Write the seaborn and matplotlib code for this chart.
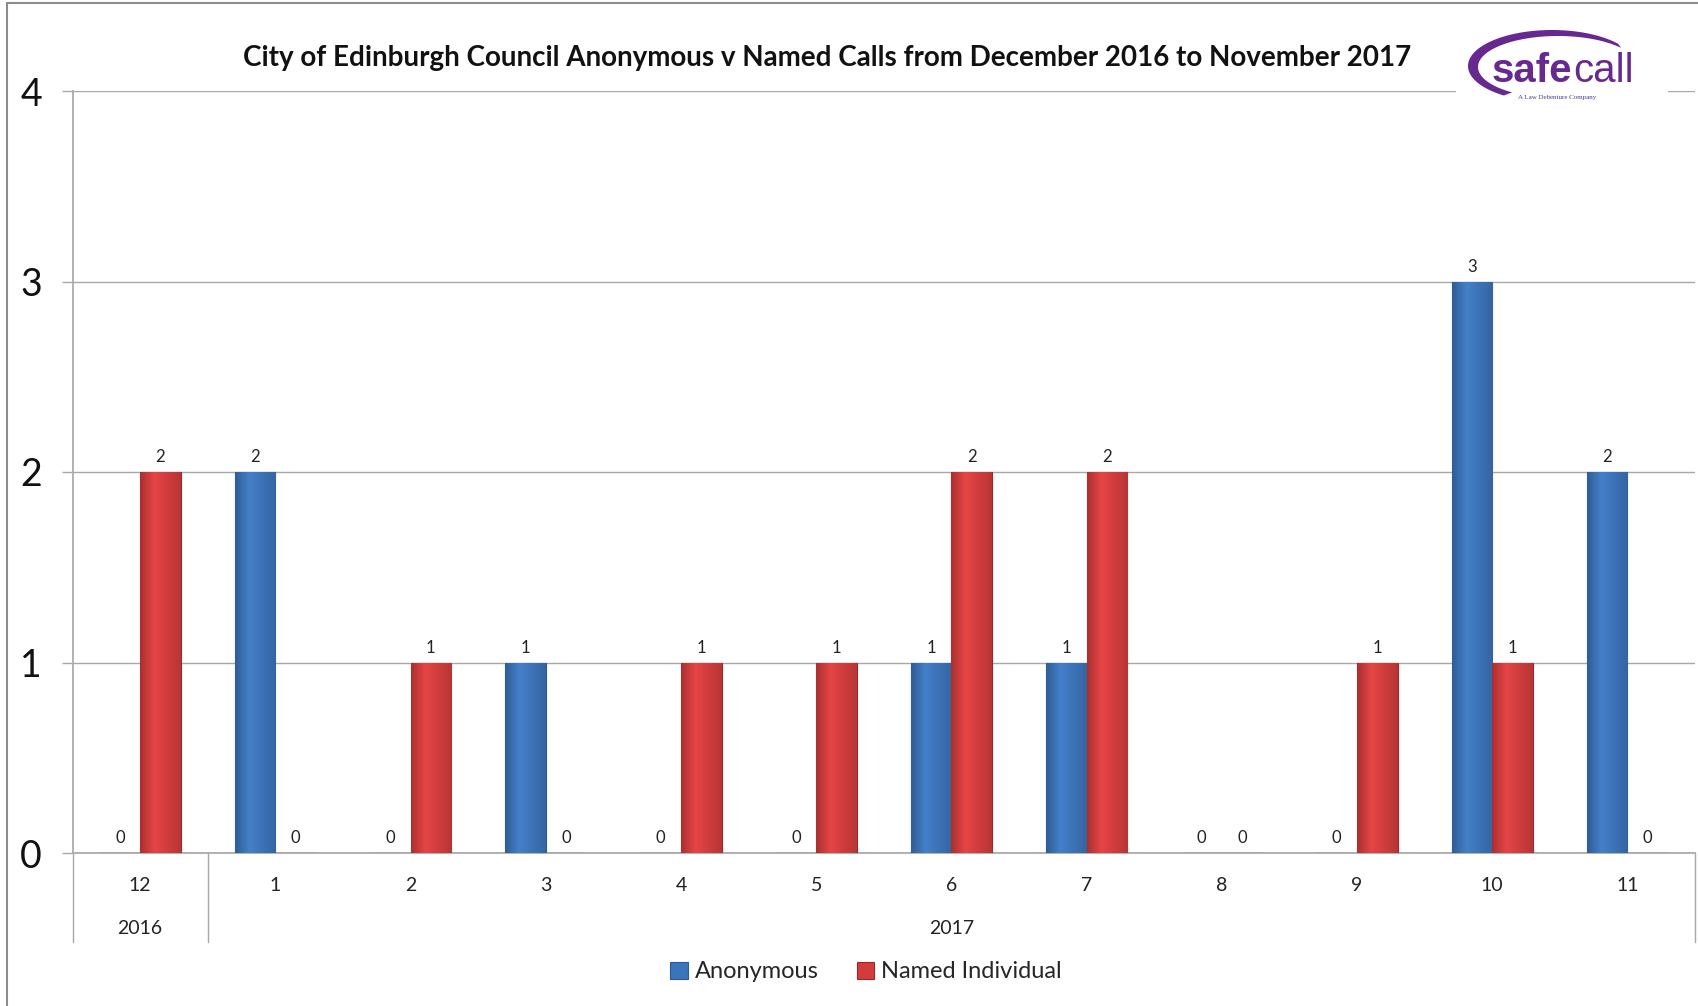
import numpy as np
import pandas as pd
import matplotlib
matplotlib.use("Agg")
import matplotlib.pyplot as plt
import matplotlib.transforms as mtransforms
from matplotlib.patches import Rectangle, Polygon
from matplotlib.lines import Line2D
import seaborn as sns

# ---- data ----
months = ["12", "1", "2", "3", "4", "5", "6", "7", "8", "9", "10", "11"]
year_groups = [("2016", 0, 0), ("2017", 1, 11)]
anonymous = [0, 2, 0, 1, 0, 0, 1, 1, 0, 0, 3, 2]
named = [2, 0, 1, 0, 1, 1, 2, 2, 0, 1, 1, 0]
series = ["Anonymous", "Named Individual"]
colors = ["#3B74BA", "#D43C3C"]
edge_colors = ["#2B5B96", "#9E2626"]
title = "City of Edinburgh Council Anonymous v Named Calls from December 2016 to November 2017"

df = pd.DataFrame({
    "Month": months * 2,
    "Calls": anonymous + named,
    "Type": [series[0]] * len(months) + [series[1]] * len(months),
})

sns.set_theme(style="white")
plt.rcParams["font.family"] = ["Lato", "DejaVu Sans"]

W, H = 1698, 1006
fig = plt.figure(figsize=(W / 100, H / 100), dpi=100)
fig.patch.set_facecolor("white")


def fx(px):
    return px / W


def fy(py):
    return 1 - py / H


ax = fig.add_axes([fx(72.5), fy(853), fx(1695) - fx(72.5), fy(91) - fy(853)])

sns.barplot(data=df, x="Month", y="Calls", hue="Type", order=months,
            hue_order=series, palette=colors, saturation=1, width=0.6,
            ax=ax, legend=False, zorder=3)

ax.set_xlim(-0.5, 11.5)
ax.set_ylim(0, 4)
ax.set_yticks([0, 1, 2, 3, 4])
ax.set_xlabel("")
ax.set_ylabel("")

# shaded bars
for cont, base, edge in zip(ax.containers, colors, edge_colors):
    rgb = np.array(matplotlib.colors.to_rgb(base))
    dark = np.clip(rgb * 0.8, 0, 1)
    light = np.clip(rgb * 1.06 + 0.02, 0, 1)
    t = np.linspace(0, 1, 64)
    prof = np.where(t < 0.35, t / 0.35, 1 - (t - 0.35) / 0.65 * 0.75)
    grad = dark[None, :] * (1 - prof[:, None]) + light[None, :] * prof[:, None]
    img = grad[None, :, :]
    for bar in cont:
        bar.set_edgecolor(edge)
        bar.set_linewidth(0.8)
        h = bar.get_height()
        if h > 0:
            x0 = bar.get_x()
            w = bar.get_width()
            im = ax.imshow(img, extent=[x0, x0 + w, 0, h], aspect="auto",
                           zorder=3.5, interpolation="bilinear")
            im.set_clip_path(bar)
    ax.bar_label(cont, labels=[str(int(v)) for v in cont.datavalues],
                 padding=5, fontsize=12, color="#222222")

ax.set_xlim(-0.5, 11.5)
ax.set_ylim(0, 4)

# grid and axes
ax.yaxis.grid(True, color="#A8A8A8", linewidth=1)
ax.set_axisbelow(True)
for s in ["top", "right"]:
    ax.spines[s].set_visible(False)
ax.spines["left"].set_color("#A8A8A8")
ax.spines["bottom"].set_color("#A8A8A8")
ax.tick_params(axis="y", labelsize=27, length=8, width=1, color="#A8A8A8",
               direction="out", pad=14, left=True, labelcolor="#111111")
ax.tick_params(axis="x", labelsize=14, length=0, pad=17, labelcolor="#222222")

# year row beneath month labels
blend = mtransforms.blended_transform_factory(ax.transData, ax.transAxes)
y_year = -(928 - 853) / (853 - 91)
y_sep = -(942 - 853) / (853 - 91)
for label, i0, i1 in year_groups:
    ax.text((i0 + i1) / 2, y_year, label, transform=blend, ha="center",
            va="center", fontsize=14, color="#222222")
for xs in [-0.5, 0.5, 11.5]:
    ax.add_line(Line2D([xs, xs], [0, y_sep], transform=blend, color="#A8A8A8",
                       linewidth=1, clip_on=False))

# title
fig.text(fx(827), fy(58), title, ha="center", va="center", fontsize=20,
         fontweight="bold", color="#111111")

# legend
handles = [Rectangle((0, 0), 1, 1, facecolor=c, edgecolor=e, linewidth=0.8)
           for c, e in zip(colors, edge_colors)]
fig.legend(handles, series, loc="center", bbox_to_anchor=(fx(866), fy(972)),
           ncol=2, frameon=False, fontsize=17, handlelength=0.75,
           handleheight=0.75, handletextpad=0.3, columnspacing=1.6)

# outer frame
fig.patches.append(Rectangle((fx(7), -0.5), 2, fy(3) + 0.5, transform=fig.transFigure,
                             fill=False, edgecolor="#8C8C8C", linewidth=1.5, zorder=10))

# safecall logo
fig.patches.append(Rectangle((fx(1456), fy(108)), fx(1668) - fx(1456), fy(22) - fy(108),
                             transform=fig.transFigure, facecolor="white",
                             edgecolor="none", zorder=5))
purple = "#67288F"
th = np.linspace(np.radians(38), np.radians(235), 120)
cx, cy = 1552, 66
outer = np.c_[cx + 84 * np.cos(th), cy - 36 * np.sin(th)]
inner = np.c_[cx + 6 + 80 * np.cos(th[::-1]), cy + 1 - 31 * np.sin(th[::-1])]
pts = np.r_[outer, inner]
fig.patches.append(Polygon(np.c_[fx(pts[:, 0]), fy(pts[:, 1])], closed=True,
                           transform=fig.transFigure, facecolor=purple,
                           edgecolor="none", zorder=6))
fig.text(fx(1572), fy(82), "safe", ha="right", va="baseline", fontsize=29,
         fontweight="bold", color=purple, fontfamily=["Liberation Sans Narrow", "Liberation Sans"],
         zorder=7)
fig.text(fx(1573), fy(82), "call", ha="left", va="baseline", fontsize=29,
         color=purple, fontfamily=["Liberation Sans Narrow", "Liberation Sans"], zorder=7)
fig.text(fx(1557), fy(97), "A Law Debenture Company", ha="center", va="center",
         fontsize=5, color="#4B3C8C", fontfamily="Liberation Serif", zorder=7)

fig.savefig("out.png", dpi=100)
